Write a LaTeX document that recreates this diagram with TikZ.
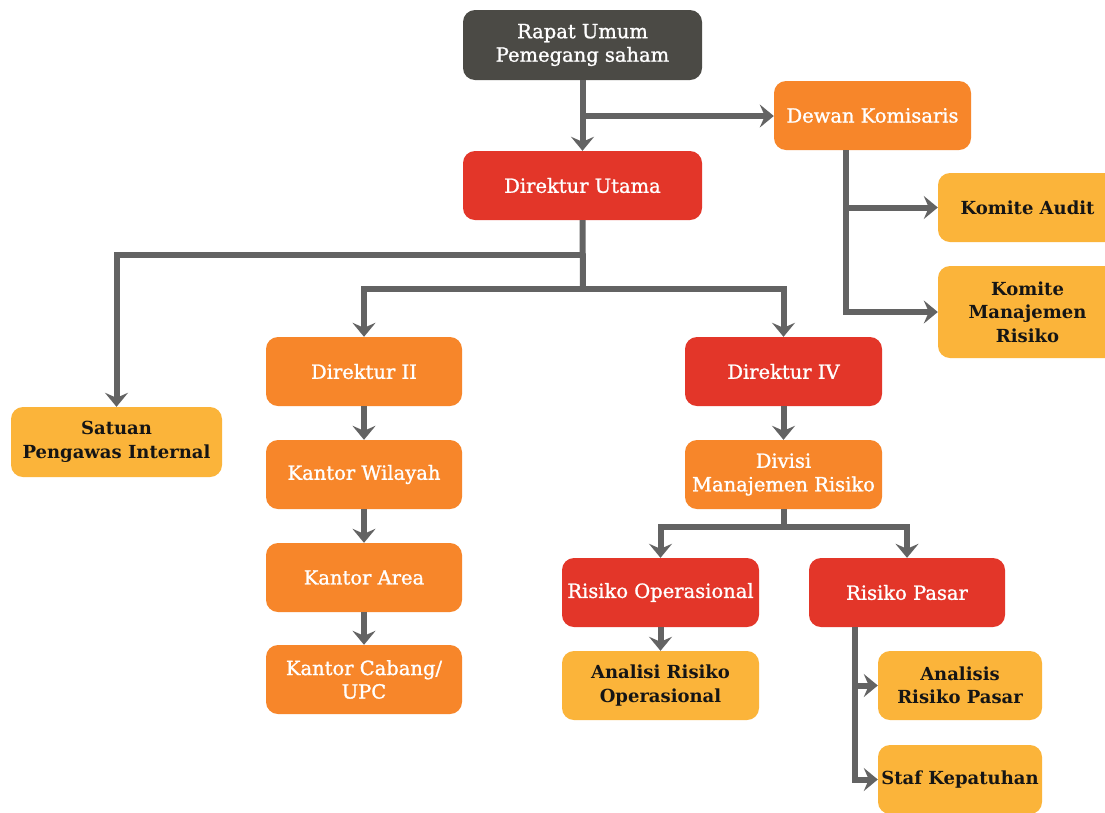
\documentclass[tikz,border=0pt]{standalone}
\usepackage{fontspec}
\setmainfont{DejaVu Serif}
\newfontfamily\lightlabel[FakeBold=1.2]{DejaVu Serif}
\usetikzlibrary{arrows.meta}
\definecolor{cdark}{HTML}{4B4A45}
\definecolor{corange}{HTML}{F7862A}
\definecolor{cred}{HTML}{E33629}
\definecolor{cyellow}{HTML}{FBB43A}
\definecolor{cline}{HTML}{636363}
\definecolor{ctext}{HTML}{151515}
\tikzset{
  box/.style={rounded corners=12pt, align=center, inner sep=0pt,
    font=\lightlabel\fontsize{19.5}{23.5}\selectfont, minimum height=69pt, minimum width=197pt},
  darkbox/.style={box, fill=cdark, text=white},
  orangebox/.style={box, fill=corange, text=white},
  redbox/.style={box, fill=cred, text=white},
  yellowbox/.style={box, fill=cyellow, text=ctext, font=\fontsize{18}{23.5}\selectfont\bfseries},
  link/.style={draw=cline, line width=6pt},
  arr/.style={link, -{Stealth[length=14pt, width=23pt, inset=5pt]}}
}
\begin{document}
\begin{tikzpicture}[x=1pt, y=-1pt]
\clip (0,0) rectangle (1105,812);
\fill[white] (0,0) rectangle (1105,812);

% boxes
\node[darkbox, minimum width=239pt, minimum height=70pt] (rups) at (582.5,45) {Rapat Umum\\Pemegang saham};
\node[orangebox] (dk) at (872.5,115.5) {Dewan Komisaris};
\node[redbox, minimum width=239pt] (du) at (582.5,185.5) {Direktur Utama};
\node[yellowbox, minimum width=179pt] (ka) at (1027.5,207.5) {Komite Audit};
\node[yellowbox, minimum width=179pt, minimum height=92pt] (kmr) at (1027.5,312) {Komite\\Manajemen\\Risiko};
\node[orangebox, minimum width=196pt] (d2) at (364,371.5) {Direktur II};
\node[redbox] (d4) at (783.5,371.5) {Direktur IV};
\node[yellowbox, minimum width=211pt, minimum height=70pt] (spi) at (116.5,442) {Satuan\\Pengawas Internal};
\node[orangebox, minimum width=196pt] (kw) at (364,474.5) {Kantor Wilayah};
\node[orangebox] (div) at (783.5,474.5) {Divisi\\Manajemen Risiko};
\node[orangebox, minimum width=196pt] (kar) at (364,577.5) {Kantor Area};
\node[orangebox, minimum width=196pt] (kc) at (364,679.5) {Kantor Cabang/\\UPC};
\node[redbox] (ro) at (660.5,592.5) {Risiko Operasional};
\node[redbox, minimum width=196pt] (rp) at (907,592.5) {Risiko Pasar};
\node[yellowbox] (aro) at (660.5,685.5) {Analisi Risiko\\Operasional};
\node[yellowbox, minimum width=164pt] (arp) at (960,685.5) {Analisis\\Risiko Pasar};
\node[yellowbox, minimum width=164pt] (sk) at (960,779.5) {Staf Kepatuhan};

% junction points
\coordinate (jdk) at (583,116);
\coordinate (dkx) at (846,150);
\coordinate (j1) at (583,255);
\coordinate (j2) at (583,289);
\coordinate (j3) at (783.5,527);
\coordinate (rpx) at (855,627);

% connectors
\draw[arr] (rups.south) -- (du.north);
\draw[arr] (jdk) -- (jdk -| dk.west);
\draw[arr] (dkx) |- (ka.west);
\draw[arr] (dkx) |- (kmr.west);
\draw[link] (du.south) -- (j2);
\draw[arr] (j1) -| (spi.north);
\draw[arr] (j2) -| (d2.north);
\draw[arr] (j2) -| (d4.north);
\draw[arr] (d2.south) -- (kw.north);
\draw[arr] (kw.south) -- (kar.north);
\draw[arr] (kar.south) -- (kc.north);
\draw[arr] (d4.south) -- (div.north);
\draw[link] (div.south) -- (j3);
\draw[arr] (j3) -| (ro.north);
\draw[arr] (j3) -| (rp.north);
\draw[arr] (ro.south) -- (aro.north);
\draw[arr] (rpx) |- (arp.west);
\draw[arr] (rpx) |- (sk.west);
\end{tikzpicture}
\end{document}
